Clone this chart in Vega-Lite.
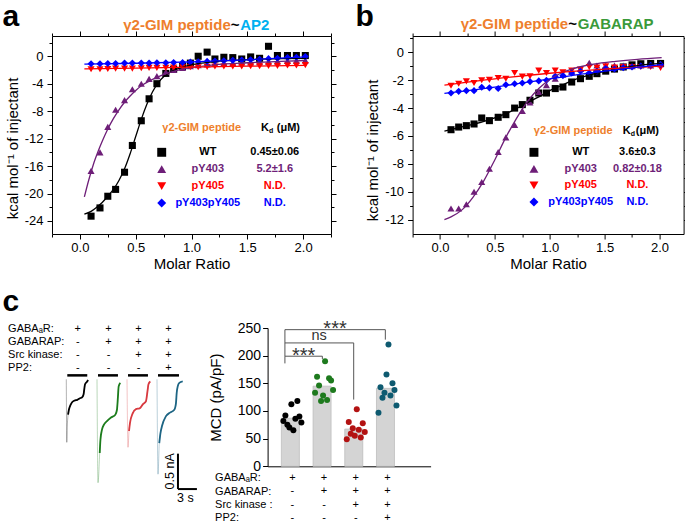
{
"$schema": "https://vega.github.io/schema/vega-lite/v6.json",
"padding": {"left": 2, "top": 1, "right": 0, "bottom": 0},
"background": "white",
"config": {
  "font": "Liberation Sans",
  "view": {"stroke": null},
  "axis": {"grid": false, "domainColor": "black", "tickColor": "black", "labelColor": "black", "titleColor": "black", "labelFont": "Liberation Sans", "titleFont": "Liberation Sans", "titleFontWeight": "normal", "tickWidth": 1, "domainWidth": 1},
  "text": {"font": "Liberation Sans"}
},
"datasets": {
  "ptsA": [
    {"s":"WT","x":0.10,"y":-23.3},{"s":"WT","x":0.18,"y":-22.1},{"s":"WT","x":0.25,"y":-20.4},{"s":"WT","x":0.32,"y":-19.4},{"s":"WT","x":0.40,"y":-16.9},{"s":"WT","x":0.47,"y":-13.0},{"s":"WT","x":0.55,"y":-9.4},{"s":"WT","x":0.62,"y":-6.2},{"s":"WT","x":0.69,"y":-4.0},{"s":"WT","x":0.77,"y":-2.5},{"s":"WT","x":0.84,"y":-1.9},{"s":"WT","x":0.92,"y":-1.5},{"s":"WT","x":0.99,"y":-1.0},{"s":"WT","x":1.06,"y":0.0},{"s":"WT","x":1.14,"y":0.6},{"s":"WT","x":1.21,"y":-0.4},{"s":"WT","x":1.29,"y":-0.15},{"s":"WT","x":1.37,"y":-0.2},{"s":"WT","x":1.45,"y":-0.4},{"s":"WT","x":1.53,"y":-0.1},{"s":"WT","x":1.61,"y":-0.3},{"s":"WT","x":1.69,"y":1.45},{"s":"WT","x":1.77,"y":0.1},{"s":"WT","x":1.86,"y":0.1},{"s":"WT","x":1.94,"y":0.1},{"s":"WT","x":2.02,"y":0.1},
    {"s":"pY403","x":0.10,"y":-16.7},{"s":"pY403","x":0.18,"y":-14.0},{"s":"pY403","x":0.25,"y":-10.3},{"s":"pY403","x":0.32,"y":-7.8},{"s":"pY403","x":0.40,"y":-6.4},{"s":"pY403","x":0.47,"y":-4.8},{"s":"pY403","x":0.55,"y":-4.0},{"s":"pY403","x":0.62,"y":-3.3},{"s":"pY403","x":0.69,"y":-2.9},{"s":"pY403","x":0.77,"y":-2.3},{"s":"pY403","x":0.84,"y":-2.0},{"s":"pY403","x":0.92,"y":-1.7},{"s":"pY403","x":0.99,"y":-1.45},{"s":"pY403","x":1.06,"y":-1.3},{"s":"pY403","x":1.14,"y":-1.2},{"s":"pY403","x":1.21,"y":-1.1},{"s":"pY403","x":1.29,"y":-1.0},{"s":"pY403","x":1.37,"y":-1.0},{"s":"pY403","x":1.45,"y":-0.9},{"s":"pY403","x":1.53,"y":-0.9},{"s":"pY403","x":1.61,"y":-0.85},{"s":"pY403","x":1.69,"y":-0.8},{"s":"pY403","x":1.77,"y":-0.75},{"s":"pY403","x":1.86,"y":-0.7},{"s":"pY403","x":1.94,"y":-0.65},{"s":"pY403","x":2.02,"y":-0.6},
    {"s":"pY405","x":0.10,"y":-1.9},{"s":"pY405","x":0.18,"y":-1.9},{"s":"pY405","x":0.25,"y":-1.85},{"s":"pY405","x":0.32,"y":-1.8},{"s":"pY405","x":0.40,"y":-1.8},{"s":"pY405","x":0.47,"y":-1.8},{"s":"pY405","x":0.55,"y":-1.75},{"s":"pY405","x":0.62,"y":-1.7},{"s":"pY405","x":0.69,"y":-1.7},{"s":"pY405","x":0.77,"y":-1.7},{"s":"pY405","x":0.84,"y":-1.65},{"s":"pY405","x":0.92,"y":-1.6},{"s":"pY405","x":0.99,"y":-1.6},{"s":"pY405","x":1.06,"y":-1.6},{"s":"pY405","x":1.14,"y":-1.55},{"s":"pY405","x":1.21,"y":-1.5},{"s":"pY405","x":1.29,"y":-1.5},{"s":"pY405","x":1.37,"y":-1.5},{"s":"pY405","x":1.45,"y":-1.5},{"s":"pY405","x":1.53,"y":-1.45},{"s":"pY405","x":1.61,"y":-1.45},{"s":"pY405","x":1.69,"y":-1.4},{"s":"pY405","x":1.77,"y":-1.4},{"s":"pY405","x":1.86,"y":-1.35},{"s":"pY405","x":1.94,"y":-1.35},{"s":"pY405","x":2.02,"y":-1.3},
    {"s":"pY403pY405","x":0.10,"y":-1.1},{"s":"pY403pY405","x":0.18,"y":-1.1},{"s":"pY403pY405","x":0.25,"y":-1.05},{"s":"pY403pY405","x":0.32,"y":-1.05},{"s":"pY403pY405","x":0.40,"y":-1.0},{"s":"pY403pY405","x":0.47,"y":-1.0},{"s":"pY403pY405","x":0.55,"y":-1.0},{"s":"pY403pY405","x":0.62,"y":-1.0},{"s":"pY403pY405","x":0.69,"y":-0.95},{"s":"pY403pY405","x":0.77,"y":-0.95},{"s":"pY403pY405","x":0.84,"y":-0.9},{"s":"pY403pY405","x":0.92,"y":-0.9},{"s":"pY403pY405","x":0.99,"y":-0.85},{"s":"pY403pY405","x":1.06,"y":-0.8},{"s":"pY403pY405","x":1.14,"y":-0.75},{"s":"pY403pY405","x":1.21,"y":-0.7},{"s":"pY403pY405","x":1.29,"y":-0.65},{"s":"pY403pY405","x":1.37,"y":-0.6},{"s":"pY403pY405","x":1.45,"y":-0.55},{"s":"pY403pY405","x":1.53,"y":-0.5},{"s":"pY403pY405","x":1.61,"y":-0.45},{"s":"pY403pY405","x":1.69,"y":-0.35},{"s":"pY403pY405","x":1.77,"y":-0.3},{"s":"pY403pY405","x":1.86,"y":-0.2},{"s":"pY403pY405","x":1.94,"y":-0.15},{"s":"pY403pY405","x":2.02,"y":-0.05}
  ],
  "fitA": [
    {"s":"WT","x":0.04,"y":-23.0},{"s":"WT","x":0.10,"y":-22.6},{"s":"WT","x":0.15,"y":-22.0},{"s":"WT","x":0.20,"y":-21.3},{"s":"WT","x":0.25,"y":-20.4},{"s":"WT","x":0.30,"y":-19.4},{"s":"WT","x":0.35,"y":-18.1},{"s":"WT","x":0.40,"y":-16.4},{"s":"WT","x":0.45,"y":-14.2},{"s":"WT","x":0.50,"y":-11.7},{"s":"WT","x":0.55,"y":-9.2},{"s":"WT","x":0.60,"y":-7.0},{"s":"WT","x":0.65,"y":-5.2},{"s":"WT","x":0.70,"y":-3.9},{"s":"WT","x":0.75,"y":-3.0},{"s":"WT","x":0.80,"y":-2.4},{"s":"WT","x":0.90,"y":-1.7},{"s":"WT","x":1.00,"y":-1.25},{"s":"WT","x":1.20,"y":-0.8},{"s":"WT","x":1.50,"y":-0.5},{"s":"WT","x":1.80,"y":-0.35},{"s":"WT","x":2.03,"y":-0.3},
    {"s":"pY403","x":0.04,"y":-20.5},{"s":"pY403","x":0.08,"y":-18.0},{"s":"pY403","x":0.12,"y":-15.8},{"s":"pY403","x":0.16,"y":-14.0},{"s":"pY403","x":0.20,"y":-12.4},{"s":"pY403","x":0.25,"y":-10.6},{"s":"pY403","x":0.30,"y":-9.1},{"s":"pY403","x":0.35,"y":-7.8},{"s":"pY403","x":0.40,"y":-6.7},{"s":"pY403","x":0.45,"y":-5.8},{"s":"pY403","x":0.50,"y":-5.0},{"s":"pY403","x":0.55,"y":-4.3},{"s":"pY403","x":0.60,"y":-3.8},{"s":"pY403","x":0.70,"y":-3.0},{"s":"pY403","x":0.80,"y":-2.4},{"s":"pY403","x":0.90,"y":-1.95},{"s":"pY403","x":1.00,"y":-1.65},{"s":"pY403","x":1.20,"y":-1.25},{"s":"pY403","x":1.50,"y":-0.95},{"s":"pY403","x":1.80,"y":-0.75},{"s":"pY403","x":2.03,"y":-0.62},
    {"s":"pY405","x":0.04,"y":-1.85},{"s":"pY405","x":0.5,"y":-1.72},{"s":"pY405","x":1.0,"y":-1.58},{"s":"pY405","x":1.5,"y":-1.45},{"s":"pY405","x":2.03,"y":-1.32},
    {"s":"pY403pY405","x":0.04,"y":-1.15},{"s":"pY403pY405","x":0.5,"y":-1.02},{"s":"pY403pY405","x":1.0,"y":-0.82},{"s":"pY403pY405","x":1.5,"y":-0.52},{"s":"pY403pY405","x":2.03,"y":-0.08}
  ],
  "ptsB": [
    {"s":"WT","x":0.10,"y":-5.55},{"s":"WT","x":0.17,"y":-5.36},{"s":"WT","x":0.24,"y":-5.26},{"s":"WT","x":0.31,"y":-5.14},{"s":"WT","x":0.38,"y":-4.71},{"s":"WT","x":0.45,"y":-4.9},{"s":"WT","x":0.53,"y":-4.66},{"s":"WT","x":0.60,"y":-4.47},{"s":"WT","x":0.68,"y":-4.0},{"s":"WT","x":0.75,"y":-3.75},{"s":"WT","x":0.82,"y":-3.44},{"s":"WT","x":0.90,"y":-2.92},{"s":"WT","x":0.97,"y":-2.92},{"s":"WT","x":1.05,"y":-2.6},{"s":"WT","x":1.12,"y":-2.49},{"s":"WT","x":1.20,"y":-2.13},{"s":"WT","x":1.28,"y":-1.89},{"s":"WT","x":1.36,"y":-1.72},{"s":"WT","x":1.43,"y":-1.53},{"s":"WT","x":1.51,"y":-1.35},{"s":"WT","x":1.59,"y":-1.2},{"s":"WT","x":1.67,"y":-1.05},{"s":"WT","x":1.75,"y":-0.9},{"s":"WT","x":1.83,"y":-0.82},{"s":"WT","x":1.92,"y":-0.8},{"s":"WT","x":2.01,"y":-0.8},
    {"s":"pY403","x":0.10,"y":-11.2},{"s":"pY403","x":0.17,"y":-11.2},{"s":"pY403","x":0.24,"y":-10.9},{"s":"pY403","x":0.31,"y":-10.0},{"s":"pY403","x":0.38,"y":-9.3},{"s":"pY403","x":0.45,"y":-8.35},{"s":"pY403","x":0.53,"y":-7.15},{"s":"pY403","x":0.60,"y":-6.1},{"s":"pY403","x":0.68,"y":-5.2},{"s":"pY403","x":0.75,"y":-4.2},{"s":"pY403","x":0.82,"y":-3.6},{"s":"pY403","x":0.90,"y":-2.85},{"s":"pY403","x":0.97,"y":-2.35},{"s":"pY403","x":1.05,"y":-1.9},{"s":"pY403","x":1.12,"y":-1.6},{"s":"pY403","x":1.20,"y":-1.4},{"s":"pY403","x":1.28,"y":-1.2},{"s":"pY403","x":1.36,"y":-0.75},{"s":"pY403","x":1.43,"y":-0.95},{"s":"pY403","x":1.51,"y":-0.95},{"s":"pY403","x":1.59,"y":-0.95},{"s":"pY403","x":1.67,"y":-0.95},{"s":"pY403","x":1.75,"y":-1.0},{"s":"pY403","x":1.83,"y":-0.95},{"s":"pY403","x":1.92,"y":-0.95},{"s":"pY403","x":2.01,"y":-0.85},
    {"s":"pY405","x":0.10,"y":-2.4},{"s":"pY405","x":0.17,"y":-2.25},{"s":"pY405","x":0.24,"y":-2.08},{"s":"pY405","x":0.31,"y":-2.2},{"s":"pY405","x":0.38,"y":-2.0},{"s":"pY405","x":0.45,"y":-1.98},{"s":"pY405","x":0.53,"y":-1.84},{"s":"pY405","x":0.60,"y":-1.9},{"s":"pY405","x":0.68,"y":-1.48},{"s":"pY405","x":0.75,"y":-1.74},{"s":"pY405","x":0.82,"y":-1.72},{"s":"pY405","x":0.90,"y":-1.31},{"s":"pY405","x":0.97,"y":-1.48},{"s":"pY405","x":1.05,"y":-1.31},{"s":"pY405","x":1.12,"y":-1.43},{"s":"pY405","x":1.20,"y":-1.31},{"s":"pY405","x":1.28,"y":-1.24},{"s":"pY405","x":1.36,"y":-1.05},{"s":"pY405","x":1.43,"y":-1.1},{"s":"pY405","x":1.51,"y":-1.0},{"s":"pY405","x":1.59,"y":-1.1},{"s":"pY405","x":1.67,"y":-1.05},{"s":"pY405","x":1.75,"y":-1.05},{"s":"pY405","x":1.83,"y":-1.05},{"s":"pY405","x":1.92,"y":-1.05},{"s":"pY405","x":2.01,"y":-1.12},
    {"s":"pY403pY405","x":0.10,"y":-2.92},{"s":"pY403pY405","x":0.17,"y":-2.8},{"s":"pY403pY405","x":0.24,"y":-2.75},{"s":"pY403pY405","x":0.31,"y":-2.75},{"s":"pY403pY405","x":0.38,"y":-2.51},{"s":"pY403pY405","x":0.45,"y":-2.55},{"s":"pY403pY405","x":0.53,"y":-2.6},{"s":"pY403pY405","x":0.60,"y":-2.32},{"s":"pY403pY405","x":0.68,"y":-2.25},{"s":"pY403pY405","x":0.75,"y":-2.2},{"s":"pY403pY405","x":0.82,"y":-2.1},{"s":"pY403pY405","x":0.90,"y":-2.05},{"s":"pY403pY405","x":0.97,"y":-2.0},{"s":"pY403pY405","x":1.05,"y":-1.72},{"s":"pY403pY405","x":1.12,"y":-1.67},{"s":"pY403pY405","x":1.20,"y":-1.48},{"s":"pY403pY405","x":1.28,"y":-1.36},{"s":"pY403pY405","x":1.36,"y":-1.48},{"s":"pY403pY405","x":1.43,"y":-1.36},{"s":"pY403pY405","x":1.51,"y":-1.17},{"s":"pY403pY405","x":1.59,"y":-1.2},{"s":"pY403pY405","x":1.67,"y":-1.1},{"s":"pY403pY405","x":1.75,"y":-1.05},{"s":"pY403pY405","x":1.83,"y":-0.98},{"s":"pY403pY405","x":1.92,"y":-0.93},{"s":"pY403pY405","x":2.01,"y":-0.88}
  ],
  "fitB": [
    {"s":"WT","x":0.04,"y":-5.65},{"s":"WT","x":0.2,"y":-5.35},{"s":"WT","x":0.4,"y":-4.95},{"s":"WT","x":0.6,"y":-4.4},{"s":"WT","x":0.8,"y":-3.6},{"s":"WT","x":0.9,"y":-3.2},{"s":"WT","x":1.0,"y":-2.75},{"s":"WT","x":1.1,"y":-2.4},{"s":"WT","x":1.2,"y":-2.05},{"s":"WT","x":1.4,"y":-1.55},{"s":"WT","x":1.6,"y":-1.2},{"s":"WT","x":1.8,"y":-0.95},{"s":"WT","x":2.02,"y":-0.8},
    {"s":"pY403","x":0.04,"y":-12.0},{"s":"pY403","x":0.1,"y":-11.8},{"s":"pY403","x":0.2,"y":-11.3},{"s":"pY403","x":0.3,"y":-10.4},{"s":"pY403","x":0.4,"y":-9.2},{"s":"pY403","x":0.5,"y":-7.7},{"s":"pY403","x":0.6,"y":-6.1},{"s":"pY403","x":0.7,"y":-4.7},{"s":"pY403","x":0.8,"y":-3.5},{"s":"pY403","x":0.9,"y":-2.6},{"s":"pY403","x":1.0,"y":-1.95},{"s":"pY403","x":1.1,"y":-1.5},{"s":"pY403","x":1.2,"y":-1.2},{"s":"pY403","x":1.3,"y":-1.0},{"s":"pY403","x":1.4,"y":-0.85},{"s":"pY403","x":1.6,"y":-0.65},{"s":"pY403","x":1.8,"y":-0.5},{"s":"pY403","x":2.02,"y":-0.38},
    {"s":"pY405","x":0.04,"y":-2.35},{"s":"pY405","x":0.5,"y":-1.9},{"s":"pY405","x":1.0,"y":-1.5},{"s":"pY405","x":1.5,"y":-1.2},{"s":"pY405","x":2.02,"y":-0.98},
    {"s":"pY403pY405","x":0.04,"y":-2.95},{"s":"pY403pY405","x":0.5,"y":-2.5},{"s":"pY403pY405","x":1.0,"y":-1.9},{"s":"pY403pY405","x":1.5,"y":-1.35},{"s":"pY403pY405","x":2.02,"y":-0.88}
  ],
  "legA": [{"s":"WT","kd":"0.45±0.06"},{"s":"pY403","kd":"5.2±1.6"},{"s":"pY405","kd":"N.D."},{"s":"pY403pY405","kd":"N.D."}],
  "legB": [{"s":"WT","kd":"3.6±0.3"},{"s":"pY403","kd":"0.82±0.18"},{"s":"pY405","kd":"N.D."},{"s":"pY403pY405","kd":"N.D."}],
  "traces": [
    {"cond":"c1","t":0,"I":0},{"cond":"c1","t":0.08,"I":-0.89},{"cond":"c1","t":0.16,"I":-0.66},{"cond":"c1","t":0.28,"I":-0.50},{"cond":"c1","t":0.41,"I":-0.43},{"cond":"c1","t":0.68,"I":-0.36},{"cond":"c1","t":0.95,"I":-0.32},{"cond":"c1","t":1.31,"I":-0.30},{"cond":"c1","t":1.74,"I":-0.29},{"cond":"c1","t":2.1,"I":-0.27},{"cond":"c1","t":2.53,"I":-0.25},{"cond":"c1","t":2.74,"I":-0.21},{"cond":"c1","t":2.86,"I":-0.13},{"cond":"c1","t":2.97,"I":-0.07},{"cond":"c1","t":3.32,"I":-0.03},{"cond":"c1","t":3.45,"I":-0.01},
    {"cond":"c2","t":0,"I":0},{"cond":"c2","t":0.16,"I":-1.46},{"cond":"c2","t":0.43,"I":-1.04},{"cond":"c2","t":0.55,"I":-0.85},{"cond":"c2","t":0.79,"I":-0.71},{"cond":"c2","t":1.1,"I":-0.64},{"cond":"c2","t":1.58,"I":-0.59},{"cond":"c2","t":2.22,"I":-0.54},{"cond":"c2","t":2.9,"I":-0.50},{"cond":"c2","t":3.16,"I":-0.43},{"cond":"c2","t":3.32,"I":-0.24},{"cond":"c2","t":3.43,"I":-0.10},{"cond":"c2","t":3.69,"I":-0.05},
    {"cond":"c3","t":0,"I":0},{"cond":"c3","t":0.16,"I":-0.96},{"cond":"c3","t":0.32,"I":-0.73},{"cond":"c3","t":0.47,"I":-0.62},{"cond":"c3","t":0.9,"I":-0.48},{"cond":"c3","t":1.42,"I":-0.42},{"cond":"c3","t":1.99,"I":-0.41},{"cond":"c3","t":2.53,"I":-0.35},{"cond":"c3","t":3.0,"I":-0.31},{"cond":"c3","t":3.27,"I":-0.15},{"cond":"c3","t":3.4,"I":-0.07},{"cond":"c3","t":3.69,"I":-0.03},
    {"cond":"c4","t":0,"I":0},{"cond":"c4","t":0.16,"I":-1.34},{"cond":"c4","t":0.36,"I":-0.90},{"cond":"c4","t":0.55,"I":-0.76},{"cond":"c4","t":0.79,"I":-0.66},{"cond":"c4","t":1.42,"I":-0.52},{"cond":"c4","t":2.06,"I":-0.47},{"cond":"c4","t":2.74,"I":-0.43},{"cond":"c4","t":3.0,"I":-0.34},{"cond":"c4","t":3.12,"I":-0.19},{"cond":"c4","t":3.28,"I":-0.10},{"cond":"c4","t":3.53,"I":-0.05},{"cond":"c4","t":4.07,"I":-0.03}
  ],
  "mcd": [
    {"grp":"+|-|-|-","rep":1,"mcd":82},{"grp":"+|-|-|-","rep":2,"mcd":92},{"grp":"+|-|-|-","rep":3,"mcd":75},{"grp":"+|-|-|-","rep":4,"mcd":70},{"grp":"+|-|-|-","rep":5,"mcd":112},{"grp":"+|-|-|-","rep":6,"mcd":65},{"grp":"+|-|-|-","rep":7,"mcd":86},{"grp":"+|-|-|-","rep":8,"mcd":118},{"grp":"+|-|-|-","rep":9,"mcd":90},{"grp":"+|-|-|-","rep":10,"mcd":79},
    {"grp":"+|+|-|-","rep":6,"mcd":190},{"grp":"+|+|-|-","rep":2,"mcd":162},{"grp":"+|+|-|-","rep":8,"mcd":159},{"grp":"+|+|-|-","rep":9,"mcd":155},{"grp":"+|+|-|-","rep":3,"mcd":146},{"grp":"+|+|-|-","rep":10,"mcd":138},{"grp":"+|+|-|-","rep":1,"mcd":133},{"grp":"+|+|-|-","rep":5,"mcd":128},{"grp":"+|+|-|-","rep":7,"mcd":120},{"grp":"+|+|-|-","rep":4,"mcd":118},
    {"grp":"+|+|+|-","rep":6,"mcd":103},{"grp":"+|+|+|-","rep":2,"mcd":80},{"grp":"+|+|+|-","rep":9,"mcd":78},{"grp":"+|+|+|-","rep":4,"mcd":69},{"grp":"+|+|+|-","rep":7,"mcd":66},{"grp":"+|+|+|-","rep":10,"mcd":62},{"grp":"+|+|+|-","rep":3,"mcd":59},{"grp":"+|+|+|-","rep":5,"mcd":55},{"grp":"+|+|+|-","rep":8,"mcd":52},{"grp":"+|+|+|-","rep":1,"mcd":49},
    {"grp":"+|+|+|+","rep":6,"mcd":220},{"grp":"+|+|+|+","rep":5,"mcd":166},{"grp":"+|+|+|+","rep":8,"mcd":150},{"grp":"+|+|+|+","rep":2,"mcd":143},{"grp":"+|+|+|+","rep":9,"mcd":138},{"grp":"+|+|+|+","rep":4,"mcd":133},{"grp":"+|+|+|+","rep":7,"mcd":128},{"grp":"+|+|+|+","rep":3,"mcd":124},{"grp":"+|+|+|+","rep":10,"mcd":110},{"grp":"+|+|+|+","rep":1,"mcd":97}
  ],
  "brackets": [
    {"from":0.757,"to":1.94,"h":199,"lo1":186,"lo2":194,"label":"***","mid":1.35,"ly":188},
    {"from":0.757,"to":2.93,"h":223,"lo1":199,"lo2":120.6,"label":"ns","mid":1.84,"ly":229},
    {"from":0.757,"to":3.93,"h":247,"lo1":223,"lo2":229,"label":"***","mid":2.34,"ly":238}
  ]
},
"vconcat": [
 {
  "hconcat": [
   {
    "width": 279, "height": 198,
    "view": {"stroke": "black", "strokeWidth": 1},
    "layer": [
     {
      "layer": [
       {
        "data": {"name": "ptsA"},
        "mark": {"type": "point", "filled": true, "size": 50, "opacity": 1},
        "encoding": {
         "x": {"field": "x", "type": "quantitative", "scale": {"domain": [-0.25, 2.25], "nice": false, "zero": false},
               "axis": {"orient": "top", "values": [-0.25,0,0.25,0.5,0.75,1,1.25,1.5,1.75,2,2.25], "labels": false, "title": null, "domain": false,
                        "tickSize": {"condition": {"test": "abs(datum.value*2 - round(datum.value*2)) < 0.001", "value": 5}, "value": 3}}},
         "y": {"field": "y", "type": "quantitative", "scale": {"domain": [-25.9, 2.95], "nice": false, "zero": false},
               "axis": {"orient": "right", "values": [-24,-22,-20,-18,-16,-14,-12,-10,-8,-6,-4,-2,0,2], "labels": false, "title": null, "domain": false,
                        "tickSize": {"condition": {"test": "datum.value % 4 === 0", "value": 5}, "value": 3}}},
         "color": {"field": "s", "type": "nominal", "scale": {"domain": ["WT","pY403","pY405","pY403pY405"], "range": ["#000000","#6E1E78","#FF0000","#0000FF"]}, "legend": null},
         "shape": {"field": "s", "type": "nominal", "scale": {"domain": ["WT","pY403","pY405","pY403pY405"], "range": ["square","triangle-up","triangle-down","diamond"]}, "legend": null}
        }
       },
       {
        "data": {"name": "fitA"},
        "mark": {"type": "line", "strokeWidth": 1.3, "interpolate": "monotone"},
        "encoding": {
         "x": {"field": "x", "type": "quantitative",
               "axis": {"orient": "bottom", "values": [-0.25,0,0.25,0.5,0.75,1,1.25,1.5,1.75,2,2.25],
                        "labelExpr": "(datum.value >= 0 && datum.value <= 2 && abs(datum.value*2 - round(datum.value*2)) < 0.001) ? format(datum.value, '.1f') : ''",
                        "tickSize": {"condition": {"test": "abs(datum.value*2 - round(datum.value*2)) < 0.001", "value": 5}, "value": 3},
                        "title": "Molar Ratio", "titleFontSize": 15, "labelFontSize": 13, "labelPadding": 2, "titlePadding": 2, "domain": false, "labelFlush": false, "labelOverlap": false}},
         "y": {"field": "y", "type": "quantitative",
               "axis": {"orient": "left", "values": [-24,-22,-20,-18,-16,-14,-12,-10,-8,-6,-4,-2,0,2],
                        "labelExpr": "datum.value % 4 === 0 ? '' + datum.value : ''",
                        "tickSize": {"condition": {"test": "datum.value % 4 === 0", "value": 5}, "value": 3},
                        "title": "kcal mol⁻¹ of injectant", "titleFontSize": 15, "labelFontSize": 13, "labelPadding": 4, "titlePadding": 4, "titleY": 112, "domain": false, "labelFlush": false, "labelOverlap": false}},
         "color": {"field": "s", "type": "nominal", "legend": null}
        }
       },
       {
        "data": {"values": [{}]},
        "layer": [
         {"mark": {"type": "text", "text": "a", "fontSize": 30, "fontWeight": "bold", "align": "left", "baseline": "alphabetic", "color": "black"},
          "encoding": {"x": {"datum": -0.693, "axis": null}, "y": {"datum": 4.363, "axis": null}}},
         {"mark": {"type": "text", "text": "γ2-GIM peptide", "fontSize": 15, "fontWeight": "bold", "align": "right", "baseline": "middle", "color": "#EE7F2D"},
          "encoding": {"x": {"datum": 1.352, "axis": null}, "y": {"datum": 4.51, "axis": null}}},
         {"mark": {"type": "text", "text": "~", "fontSize": 15, "fontWeight": "bold", "align": "left", "baseline": "middle", "color": "black"},
          "encoding": {"x": {"datum": 1.352, "axis": null}, "y": {"datum": 4.51, "axis": null}}},
         {"mark": {"type": "text", "text": "AP2", "fontSize": 15, "fontWeight": "bold", "align": "left", "baseline": "middle", "dx": 9.5, "color": "#00B0F0"},
          "encoding": {"x": {"datum": 1.352, "axis": null}, "y": {"datum": 4.51, "axis": null}}},
         {"mark": {"type": "text", "text": "γ2-GIM peptide", "fontSize": 11, "fontWeight": "bold", "align": "center", "baseline": "middle", "color": "#EE7F2D"},
          "encoding": {"x": {"datum": 1.092, "axis": null}, "y": {"datum": -10.5, "axis": null}}},
         {"mark": {"type": "text", "text": "K", "fontSize": 11, "fontWeight": "bold", "align": "right", "baseline": "middle", "color": "black"},
          "encoding": {"x": {"datum": 1.695, "axis": null}, "y": {"datum": -10.5, "axis": null}}},
         {"mark": {"type": "text", "text": "d", "fontSize": 7, "fontWeight": "bold", "align": "left", "baseline": "middle", "dy": 3, "color": "black"},
          "encoding": {"x": {"datum": 1.695, "axis": null}, "y": {"datum": -10.5, "axis": null}}},
         {"mark": {"type": "text", "text": "(μM)", "fontSize": 11, "fontWeight": "bold", "align": "left", "baseline": "middle", "color": "black"},
          "encoding": {"x": {"datum": 1.764, "axis": null}, "y": {"datum": -10.5, "axis": null}}}
        ]
       }
      ],
      "resolve": {"axis": {"x": "independent", "y": "independent"}}
     },
     {
      "data": {"name": "legA"},
      "encoding": {"y": {"field": "s", "type": "nominal", "scale": {"domain": ["WT","pY403","pY405","pY403pY405"], "range": [116.3, 167], "padding": 0}, "axis": null}},
      "layer": [
       {"mark": {"type": "point", "filled": true, "size": 80, "opacity": 1},
        "encoding": {"x": {"datum": 0.733, "axis": null}, "color": {"field": "s", "type": "nominal", "legend": null}, "shape": {"field": "s", "type": "nominal", "legend": null}}},
       {"mark": {"type": "text", "fontSize": 11, "fontWeight": "bold", "align": "center", "baseline": "middle"},
        "encoding": {"x": {"datum": 1.146, "axis": null}, "text": {"field": "s"}, "color": {"field": "s", "type": "nominal", "legend": null}}},
       {"mark": {"type": "text", "fontSize": 11, "fontWeight": "bold", "align": "center", "baseline": "middle"},
        "encoding": {"x": {"datum": 1.746, "axis": null}, "text": {"field": "kd"}, "color": {"field": "s", "type": "nominal", "legend": null}}}
      ]
     }
    ],
    "resolve": {"scale": {"y": "independent"}, "axis": {"x": "independent", "y": "independent"}}
   },
   {
    "width": 271, "height": 198,
    "view": {"stroke": "black", "strokeWidth": 1},
    "layer": [
     {
      "layer": [
       {
        "data": {"name": "ptsB"},
        "mark": {"type": "point", "filled": true, "size": 50, "opacity": 1},
        "encoding": {
         "x": {"field": "x", "type": "quantitative", "scale": {"domain": [-0.25, 2.22], "nice": false, "zero": false},
               "axis": {"orient": "top", "values": [-0.25,0,0.25,0.5,0.75,1,1.25,1.5,1.75,2], "labels": false, "title": null, "domain": false,
                        "tickSize": {"condition": {"test": "abs(datum.value*2 - round(datum.value*2)) < 0.001", "value": 5}, "value": 3}}},
         "y": {"field": "y", "type": "quantitative", "scale": {"domain": [-13.03, 1.17], "nice": false, "zero": false},
               "axis": {"orient": "right", "values": [-12,-11,-10,-9,-8,-7,-6,-5,-4,-3,-2,-1,0,1], "labels": false, "title": null, "domain": false,
                        "tickSize": {"condition": {"test": "datum.value % 2 === 0", "value": 5}, "value": 3}}},
         "color": {"field": "s", "type": "nominal", "scale": {"domain": ["WT","pY403","pY405","pY403pY405"], "range": ["#000000","#6E1E78","#FF0000","#0000FF"]}, "legend": null},
         "shape": {"field": "s", "type": "nominal", "scale": {"domain": ["WT","pY403","pY405","pY403pY405"], "range": ["square","triangle-up","triangle-down","diamond"]}, "legend": null}
        }
       },
       {
        "data": {"name": "fitB"},
        "mark": {"type": "line", "strokeWidth": 1.3, "interpolate": "monotone"},
        "encoding": {
         "x": {"field": "x", "type": "quantitative",
               "axis": {"orient": "bottom", "values": [-0.25,0,0.25,0.5,0.75,1,1.25,1.5,1.75,2],
                        "labelExpr": "(datum.value >= 0 && datum.value <= 2 && abs(datum.value*2 - round(datum.value*2)) < 0.001) ? format(datum.value, '.1f') : ''",
                        "tickSize": {"condition": {"test": "abs(datum.value*2 - round(datum.value*2)) < 0.001", "value": 5}, "value": 3},
                        "title": "Molar Ratio", "titleFontSize": 15, "labelFontSize": 13, "labelPadding": 2, "titlePadding": 2, "domain": false, "labelFlush": false, "labelOverlap": false}},
         "y": {"field": "y", "type": "quantitative",
               "axis": {"orient": "left", "values": [-12,-11,-10,-9,-8,-7,-6,-5,-4,-3,-2,-1,0,1],
                        "labelExpr": "datum.value % 2 === 0 ? '' + datum.value : ''",
                        "tickSize": {"condition": {"test": "datum.value % 2 === 0", "value": 5}, "value": 3},
                        "title": "kcal mol⁻¹ of injectant", "titleFontSize": 15, "labelFontSize": 13, "labelPadding": 4, "titlePadding": 4, "titleY": 114, "domain": false, "labelFlush": false, "labelOverlap": false}},
         "color": {"field": "s", "type": "nominal", "legend": null}
        }
       },
       {
        "data": {"values": [{}]},
        "layer": [
         {"mark": {"type": "text", "text": "b", "fontSize": 30, "fontWeight": "bold", "align": "left", "baseline": "alphabetic", "color": "black"},
          "encoding": {"x": {"datum": -0.770, "axis": null}, "y": {"datum": 1.866, "axis": null}}},
         {"mark": {"type": "text", "text": "γ2-GIM peptide", "fontSize": 15, "fontWeight": "bold", "align": "right", "baseline": "middle", "color": "#EE7F2D"},
          "encoding": {"x": {"datum": 1.168, "axis": null}, "y": {"datum": 2.009, "axis": null}}},
         {"mark": {"type": "text", "text": "~", "fontSize": 15, "fontWeight": "bold", "align": "left", "baseline": "middle", "color": "black"},
          "encoding": {"x": {"datum": 1.168, "axis": null}, "y": {"datum": 2.009, "axis": null}}},
         {"mark": {"type": "text", "text": "GABARAP", "fontSize": 15, "fontWeight": "bold", "align": "left", "baseline": "middle", "dx": 9.5, "color": "#3A9A3A"},
          "encoding": {"x": {"datum": 1.168, "axis": null}, "y": {"datum": 2.009, "axis": null}}},
         {"mark": {"type": "text", "text": "γ2-GIM peptide", "fontSize": 11, "fontWeight": "bold", "align": "center", "baseline": "middle", "color": "#EE7F2D"},
          "encoding": {"x": {"datum": 1.214, "axis": null}, "y": {"datum": -5.664, "axis": null}}},
         {"mark": {"type": "text", "text": "K", "fontSize": 11, "fontWeight": "bold", "align": "right", "baseline": "middle", "color": "black"},
          "encoding": {"x": {"datum": 1.738, "axis": null}, "y": {"datum": -5.664, "axis": null}}},
         {"mark": {"type": "text", "text": "d", "fontSize": 7, "fontWeight": "bold", "align": "left", "baseline": "middle", "dy": 3, "color": "black"},
          "encoding": {"x": {"datum": 1.738, "axis": null}, "y": {"datum": -5.664, "axis": null}}},
         {"mark": {"type": "text", "text": "(μM)", "fontSize": 11, "fontWeight": "bold", "align": "left", "baseline": "middle", "color": "black"},
          "encoding": {"x": {"datum": 1.784, "axis": null}, "y": {"datum": -5.664, "axis": null}}}
        ]
       }
      ],
      "resolve": {"axis": {"x": "independent", "y": "independent"}}
     },
     {
      "data": {"name": "legB"},
      "encoding": {"y": {"field": "s", "type": "nominal", "scale": {"domain": ["WT","pY403","pY405","pY403pY405"], "range": [116.3, 166], "padding": 0}, "axis": null}},
      "layer": [
       {"mark": {"type": "point", "filled": true, "size": 80, "opacity": 1},
        "encoding": {"x": {"datum": 0.856, "axis": null}, "color": {"field": "s", "type": "nominal", "legend": null}, "shape": {"field": "s", "type": "nominal", "legend": null}}},
       {"mark": {"type": "text", "fontSize": 11, "fontWeight": "bold", "align": "center", "baseline": "middle"},
        "encoding": {"x": {"datum": 1.282, "axis": null}, "text": {"field": "s"}, "color": {"field": "s", "type": "nominal", "legend": null}}},
       {"mark": {"type": "text", "fontSize": 11, "fontWeight": "bold", "align": "center", "baseline": "middle"},
        "encoding": {"x": {"datum": 1.799, "axis": null}, "text": {"field": "kd"}, "color": {"field": "s", "type": "nominal", "legend": null}}}
      ]
     }
    ],
    "resolve": {"scale": {"y": "independent"}, "axis": {"x": "independent", "y": "independent"}}
   }
  ],
  "spacing": 81.6,
  "bounds": "flush"
 },
 {
  "hconcat": [
   {
    "hconcat": [
     {
      "width": 38.3, "height": 164.6,
      "layer": [
       {"data": {"name": "traces"}, "transform": [{"filter": "datum.cond === 'c1'"}],
        "mark": {"type": "line", "color": "#000000", "strokeWidth": 1, "opacity": 0.3, "interpolate": "monotone"},
        "encoding": {
         "x": {"field": "t", "type": "quantitative", "scale": {"domain": [-2.26, 3.8], "nice": false, "zero": false},
               "axis": {"orient": "top", "offset": -8.6, "values": [1.74], "labelExpr": "split('+|-|-|-', '|')", "ticks": false, "domain": false,
                        "labelFontSize": 11, "labelLineHeight": 13, "labelPadding": 2.7, "labelBaseline": "bottom", "labelFlush": false, "labelOverlap": false,
                        "title": ["GABAₐR:", "GABARAP:", "Src kinase:", "PP2:"], "titleAlign": "left", "titleAnchor": "start", "titleAngle": 0,
                        "titleX": -44.4, "titleY": -4.8, "titleBaseline": "alphabetic", "titleFontSize": 11, "titleFontWeight": "normal", "titleLineHeight": 13}},
         "y": {"field": "I", "type": "quantitative", "scale": {"domain": [-1.6, 0.725], "nice": false, "zero": false}, "axis": null}}},
       {"data": {"name": "traces"}, "transform": [{"filter": "datum.cond === 'c1' && datum.t >= 0.25"}],
        "mark": {"type": "line", "color": "#000000", "strokeWidth": 1.8, "interpolate": "monotone"},
        "encoding": {"x": {"field": "t", "type": "quantitative"}, "y": {"field": "I", "type": "quantitative", "axis": null}}},
       {"data": {"values": [{}]},
        "layer": [
         {"mark": {"type": "rule", "color": "black", "strokeWidth": 2.5},
          "encoding": {"x": {"datum": 0.16}, "x2": {"datum": 3.32}, "y": {"datum": 0.056, "axis": null}}},
         {"mark": {"type": "text", "text": "c", "fontSize": 30, "fontWeight": "bold", "align": "left", "baseline": "alphabetic", "color": "black"},
          "encoding": {"x": {"datum": -10.08}, "y": {"datum": 0.96, "axis": null}}}
        ]}
      ]
     },
     {
      "width": 24, "height": 164.6,
      "layer": [
       {"data": {"name": "traces"}, "transform": [{"filter": "datum.cond === 'c2'"}],
        "mark": {"type": "line", "color": "#1C7C1C", "strokeWidth": 1, "opacity": 0.3, "interpolate": "monotone"},
        "encoding": {
         "x": {"field": "t", "type": "quantitative", "scale": {"domain": [0, 3.8], "nice": false, "zero": false},
               "axis": {"orient": "top", "offset": -8.6, "values": [1.74], "labelExpr": "split('+|+|-|-', '|')", "ticks": false, "domain": false,
                        "labelFontSize": 11, "labelLineHeight": 13, "labelPadding": 2.7, "labelBaseline": "bottom", "labelFlush": false, "labelOverlap": false, "title": null}},
         "y": {"field": "I", "type": "quantitative", "scale": {"domain": [-1.6, 0.725], "nice": false, "zero": false}, "axis": null}}},
       {"data": {"name": "traces"}, "transform": [{"filter": "datum.cond === 'c2' && datum.t >= 0.25"}],
        "mark": {"type": "line", "color": "#1C7C1C", "strokeWidth": 1.8, "interpolate": "monotone"},
        "encoding": {"x": {"field": "t", "type": "quantitative"}, "y": {"field": "I", "type": "quantitative", "axis": null}}},
       {"data": {"values": [{}]},
        "mark": {"type": "rule", "color": "black", "strokeWidth": 2.5},
        "encoding": {"x": {"datum": 0.16}, "x2": {"datum": 3.32}, "y": {"datum": 0.056, "axis": null}}}
      ]
     },
     {
      "width": 24, "height": 164.6,
      "layer": [
       {"data": {"name": "traces"}, "transform": [{"filter": "datum.cond === 'c3'"}],
        "mark": {"type": "line", "color": "#D83A40", "strokeWidth": 1, "opacity": 0.3, "interpolate": "monotone"},
        "encoding": {
         "x": {"field": "t", "type": "quantitative", "scale": {"domain": [0, 3.8], "nice": false, "zero": false},
               "axis": {"orient": "top", "offset": -8.6, "values": [1.74], "labelExpr": "split('+|+|+|-', '|')", "ticks": false, "domain": false,
                        "labelFontSize": 11, "labelLineHeight": 13, "labelPadding": 2.7, "labelBaseline": "bottom", "labelFlush": false, "labelOverlap": false, "title": null}},
         "y": {"field": "I", "type": "quantitative", "scale": {"domain": [-1.6, 0.725], "nice": false, "zero": false}, "axis": null}}},
       {"data": {"name": "traces"}, "transform": [{"filter": "datum.cond === 'c3' && datum.t >= 0.25"}],
        "mark": {"type": "line", "color": "#D83A40", "strokeWidth": 1.8, "interpolate": "monotone"},
        "encoding": {"x": {"field": "t", "type": "quantitative"}, "y": {"field": "I", "type": "quantitative", "axis": null}}},
       {"data": {"values": [{}]},
        "mark": {"type": "rule", "color": "black", "strokeWidth": 2.5},
        "encoding": {"x": {"datum": 0.16}, "x2": {"datum": 3.32}, "y": {"datum": 0.056, "axis": null}}}
      ]
     },
     {
      "width": 24, "height": 164.6,
      "layer": [
       {"data": {"name": "traces"}, "transform": [{"filter": "datum.cond === 'c4'"}],
        "mark": {"type": "line", "color": "#1D6584", "strokeWidth": 1, "opacity": 0.3, "interpolate": "monotone"},
        "encoding": {
         "x": {"field": "t", "type": "quantitative", "scale": {"domain": [0, 3.8], "nice": false, "zero": false},
               "axis": {"orient": "top", "offset": -8.6, "values": [1.74], "labelExpr": "split('+|+|+|+', '|')", "ticks": false, "domain": false,
                        "labelFontSize": 11, "labelLineHeight": 13, "labelPadding": 2.7, "labelBaseline": "bottom", "labelFlush": false, "labelOverlap": false, "title": null}},
         "y": {"field": "I", "type": "quantitative", "scale": {"domain": [-1.6, 0.725], "nice": false, "zero": false}, "axis": null}}},
       {"data": {"name": "traces"}, "transform": [{"filter": "datum.cond === 'c4' && datum.t >= 0.25"}],
        "mark": {"type": "line", "color": "#1D6584", "strokeWidth": 1.8, "interpolate": "monotone"},
        "encoding": {"x": {"field": "t", "type": "quantitative"}, "y": {"field": "I", "type": "quantitative", "axis": null}}},
       {"data": {"values": [{}]},
        "layer": [
         {"mark": {"type": "rule", "color": "black", "strokeWidth": 2.5},
          "encoding": {"x": {"datum": 0.16}, "x2": {"datum": 3.48}, "y": {"datum": 0.056, "axis": null}}},
         {"mark": {"type": "rule", "color": "black", "strokeWidth": 2},
          "encoding": {"x": {"datum": 3.32}, "y": {"datum": -1.05, "axis": null}, "y2": {"datum": -1.55}}},
         {"mark": {"type": "rule", "color": "black", "strokeWidth": 2},
          "encoding": {"x": {"datum": 3.32}, "x2": {"datum": 6.32}, "y": {"datum": -1.55, "axis": null}}},
         {"mark": {"type": "text", "text": "0.5 nA", "angle": 270, "fontSize": 12.5, "align": "center", "baseline": "middle", "color": "black"},
          "encoding": {"x": {"datum": 1.99}, "y": {"datum": -1.30, "axis": null}}},
         {"mark": {"type": "text", "text": "3 s", "fontSize": 12.5, "align": "center", "baseline": "middle", "color": "black"},
          "encoding": {"x": {"datum": 4.48}, "y": {"datum": -1.68, "axis": null}}}
        ]}
      ]
     }
    ],
    "spacing": 6,
    "bounds": "flush"
   },
   {
    "width": 163, "height": 138.3,
    "layer": [
     {
      "data": {"name": "mcd"},
      "layer": [
       {"mark": {"type": "bar", "fill": "#D4D4D4", "stroke": "#BEBEBE", "strokeWidth": 0.8},
        "encoding": {
         "x": {"field": "grp", "type": "nominal", "scale": {"domain": ["+|-|-|-","+|+|-|-","+|+|+|-","+|+|+|+"], "paddingInner": 0.306, "paddingOuter": 0.724, "align": 0.3},
               "axis": {"orient": "bottom", "ticks": false, "domain": true, "labelExpr": "split(datum.value, '|')", "labelAngle": 0, "labelFontSize": 11, "labelLineHeight": 13.4,
                        "labelPadding": 5.3, "labelBaseline": "top", "labelOverlap": false,
                        "title": ["GABAₐR:", "GABARAP:", "Src kinase :", "PP2:"], "titleAlign": "left", "titleAnchor": "start", "titleAngle": 0,
                        "titleX": -53, "titleY": 14.4, "titleBaseline": "alphabetic", "titleFontSize": 11, "titleFontWeight": "normal", "titleLineHeight": 13.4}},
         "y": {"aggregate": "mean", "field": "mcd", "type": "quantitative", "scale": {"domain": [0, 250], "nice": false},
               "axis": {"orient": "left", "values": [0,50,100,150,200,250], "tickSize": 5, "labelFontSize": 14, "labelPadding": 2, "title": "MCD (pA/pF)", "titleFontSize": 15, "titlePadding": 14, "labelFlush": false, "labelOverlap": false, "domain": true}}}},
       {"mark": {"type": "point", "filled": true, "size": 36, "opacity": 1},
        "encoding": {
         "x": {"field": "grp", "type": "nominal", "axis": null},
         "xOffset": {"field": "rep", "type": "ordinal", "scale": {"paddingOuter": 1}},
         "y": {"field": "mcd", "type": "quantitative", "axis": null},
         "fill": {"field": "grp", "type": "nominal", "scale": {"domain": ["+|-|-|-","+|+|-|-","+|+|+|-","+|+|+|+"], "range": ["#000000","#1E7A1E","#B31212","#0E5A70"]}, "legend": null}}}
      ],
      "resolve": {"axis": {"x": "independent", "y": "independent"}}
     },
     {
      "data": {"name": "brackets"},
      "encoding": {"y": {"field": "h", "type": "quantitative", "scale": {"domain": [0, 250], "nice": false}, "axis": null}},
      "layer": [
       {"mark": {"type": "rule", "color": "#555555", "strokeWidth": 1},
        "encoding": {"x": {"field": "from", "type": "quantitative", "scale": {"domain": [0.21, 5.36], "nice": false, "zero": false}, "axis": null}, "x2": {"field": "to"}}},
       {"mark": {"type": "rule", "color": "#555555", "strokeWidth": 1},
        "encoding": {"x": {"field": "from", "type": "quantitative", "axis": null}, "y2": {"field": "lo1"}}},
       {"mark": {"type": "rule", "color": "#555555", "strokeWidth": 1},
        "encoding": {"x": {"field": "to", "type": "quantitative", "axis": null}, "y2": {"field": "lo2"}}},
       {"transform": [{"filter": "datum.label === 'ns'"}],
        "mark": {"type": "text", "fontSize": 14.5, "align": "center", "baseline": "alphabetic", "color": "#333333"},
        "encoding": {"x": {"field": "mid", "type": "quantitative", "axis": null}, "y": {"field": "ly", "type": "quantitative", "axis": null}, "text": {"field": "label"}}},
       {"transform": [{"filter": "datum.label !== 'ns'"}],
        "mark": {"type": "text", "fontSize": 20, "align": "center", "baseline": "alphabetic", "color": "#333333"},
        "encoding": {"x": {"field": "mid", "type": "quantitative", "axis": null}, "y": {"field": "ly", "type": "quantitative", "axis": null}, "text": {"field": "label"}}}
      ]
     }
    ],
    "resolve": {"scale": {"x": "independent"}, "axis": {"x": "independent", "y": "independent"}}
   }
  ],
  "spacing": 215.6,
  "bounds": "flush"
 }
],
"spacing": 292,
"bounds": "flush",
"resolve": {"scale": {"color": "independent", "fill": "independent", "shape": "independent"}}
}
